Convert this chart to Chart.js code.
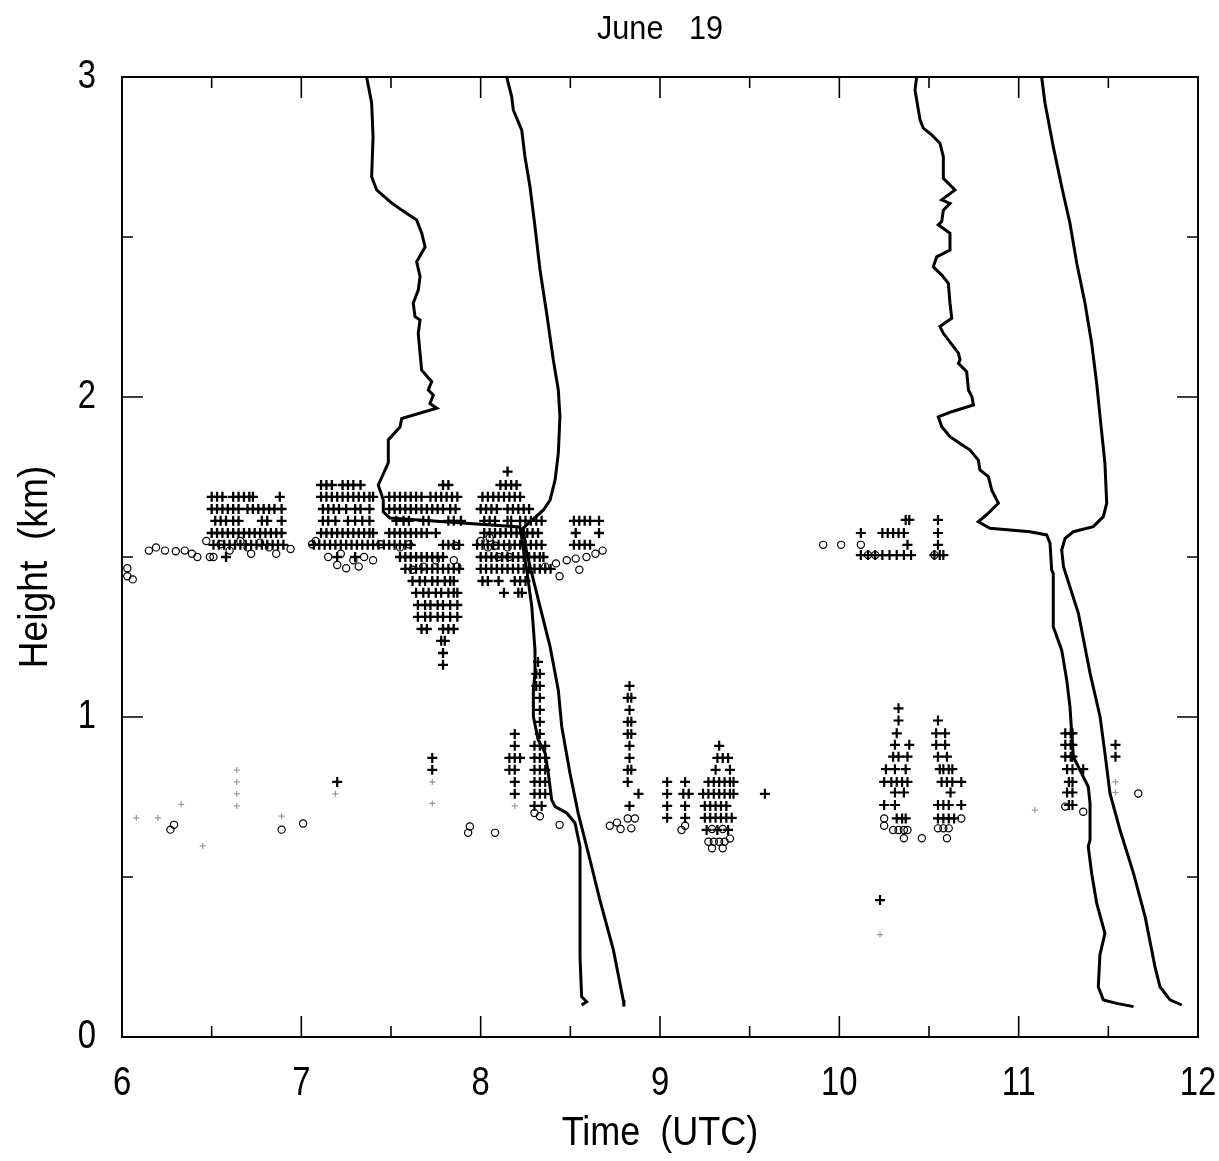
<!DOCTYPE html>
<html>
<head>
<meta charset="utf-8">
<script src="https://cdn.jsdelivr.net/npm/chart.js@4.4.1/dist/chart.umd.min.js"></script>
<style>
  html, body { margin: 0; padding: 0; background: #fff; }
</style>
</head>
<body>
<canvas id="profileChart" width="1219" height="1161"></canvas>
<script>
// June 19 - trajectories and echo heights
var FONT = "'Liberation Sans', Arial, sans-serif";

var chartTitle = 'June   19';
var xTitle = 'Time  (UTC)';
var yTitle = 'Height  (km)';
var xMajorTicks = [6, 7, 8, 9, 10, 11, 12];
var xMinorTicks = [6.5, 7.5, 8.5, 9.5, 10.5, 11.5];
var yMajorTicks = [0, 1, 2, 3];
var yMinorTicks = [0.5, 1.5, 2.5];

// trajectory lines [time, height]
var lineA = [[7.364,3.0],[7.392,2.919],[7.400,2.813],[7.392,2.688],[7.420,2.647],[7.504,2.606],[7.560,2.584],
  [7.643,2.553],[7.671,2.513],[7.690,2.469],[7.643,2.423],[7.662,2.376],[7.652,2.334],[7.624,2.293],[7.634,2.251],
  [7.662,2.241],[7.652,2.199],[7.662,2.137],[7.671,2.084],[7.727,2.048],[7.708,2.022],[7.736,2.006],[7.717,1.980],
  [7.755,1.965],[7.560,1.933],[7.550,1.906],[7.485,1.866],[7.485,1.794],[7.429,1.725],[7.457,1.678],[7.457,1.641],
  [7.494,1.622],[8.219,1.594],[8.257,1.459],[8.285,1.345],[8.303,1.209],[8.303,1.138],[8.294,1.084],[8.294,1.001],
  [8.321,0.928],[8.359,0.888],[8.377,0.825],[8.396,0.741],[8.415,0.720],[8.480,0.700],[8.526,0.669],[8.554,0.595],
  [8.554,0.407],[8.554,0.251],[8.563,0.126],[8.591,0.110],[8.563,0.100]];
var lineB = [[8.145,3.0],[8.173,2.939],[8.182,2.897],[8.229,2.834],[8.247,2.751],[8.275,2.657],[8.303,2.532],
  [8.331,2.397],[8.368,2.262],[8.405,2.116],[8.433,2.022],[8.442,1.938],[8.433,1.824],[8.415,1.741],[8.387,1.678],
  [8.350,1.647],[8.237,1.590],[8.257,1.512],[8.331,1.345],[8.387,1.220],[8.433,1.084],[8.452,0.970],[8.498,0.824],
  [8.544,0.699],[8.610,0.553],[8.665,0.428],[8.740,0.272],[8.795,0.116],[8.799,0.095]];
var lineC = [[10.431,3.0],[10.422,2.959],[10.450,2.866],[10.468,2.840],[10.515,2.819],[10.561,2.793],[10.580,2.751],
  [10.580,2.683],[10.627,2.657],[10.645,2.647],[10.571,2.616],[10.617,2.605],[10.580,2.584],[10.571,2.548],[10.552,2.538],
  [10.617,2.512],[10.617,2.459],[10.543,2.438],[10.524,2.407],[10.571,2.381],[10.608,2.355],[10.617,2.293],[10.627,2.246],
  [10.561,2.220],[10.580,2.199],[10.664,2.137],[10.673,2.116],[10.664,2.105],[10.710,2.079],[10.720,2.022],[10.739,2.001],
  [10.748,1.975],[10.627,1.954],[10.552,1.938],[10.571,1.907],[10.617,1.876],[10.673,1.855],[10.729,1.834],[10.775,1.803],
  [10.784,1.772],[10.831,1.751],[10.850,1.709],[10.887,1.668],[10.831,1.637],[10.775,1.610],[10.840,1.590],[11.063,1.579],
  [11.156,1.569],[11.175,1.543],[11.184,1.459],[11.193,1.449],[11.193,1.282],[11.240,1.209],[11.268,1.116],[11.286,1.032],
  [11.296,0.949],[11.305,0.876],[11.351,0.824],[11.388,0.782],[11.398,0.730],[11.398,0.616],[11.388,0.595],[11.407,0.512],
  [11.435,0.418],[11.481,0.324],[11.453,0.256],[11.444,0.157],[11.472,0.116],[11.547,0.105],[11.640,0.095]];
var lineD = [[11.128,3.0],[11.147,2.918],[11.193,2.782],[11.240,2.657],[11.286,2.543],[11.324,2.418],[11.370,2.293],
  [11.407,2.168],[11.435,2.043],[11.454,1.938],[11.481,1.793],[11.491,1.668],[11.472,1.626],[11.416,1.595],[11.305,1.579],
  [11.259,1.558],[11.240,1.522],[11.250,1.470],[11.333,1.324],[11.398,1.137],[11.454,1.001],[11.481,0.887],[11.509,0.762],
  [11.565,0.647],[11.640,0.512],[11.705,0.376],[11.760,0.220],[11.788,0.157],[11.844,0.116],[11.909,0.100]];

// '+' echoes, rows of [height, [times]]
var plusEarly = [
  [1.767, [8.15]],
  [1.725, [7.11, 7.14, 7.17, 7.23, 7.26, 7.29, 7.33, 7.79, 7.82, 8.11, 8.14, 8.17, 8.20]],
  [1.688, [6.50, 6.53, 6.56, 6.62, 6.65, 6.68, 6.71, 6.73, 6.88, 7.11, 7.14, 7.17, 7.20, 7.23, 7.26, 7.29, 7.32, 7.35,
           7.38, 7.40, 7.49, 7.52, 7.55, 7.58, 7.61, 7.64, 7.67, 7.72, 7.75, 7.78, 7.81, 7.84, 7.87, 8.01, 8.04, 8.07,
           8.10, 8.13, 8.16, 8.19, 8.22]],
  [1.650, [6.50, 6.53, 6.56, 6.59, 6.62, 6.65, 6.70, 6.73, 6.76, 6.79, 6.82, 6.85, 6.89, 7.12, 7.15, 7.18, 7.21, 7.25,
           7.30, 7.33, 7.38, 7.49, 7.52, 7.55, 7.58, 7.61, 7.64, 7.67, 7.70, 7.73, 7.76, 7.79, 7.83, 7.86, 8.00, 8.03,
           8.06, 8.09, 8.15, 8.18, 8.21, 8.24, 8.27]],
  [1.613, [6.52, 6.55, 6.58, 6.62, 6.65, 6.78, 6.81, 6.89, 7.12, 7.15, 7.19, 7.26, 7.30, 7.34, 7.38, 7.53, 7.57, 7.60,
           7.68, 7.71, 7.82, 7.85, 7.89, 8.02, 8.05, 8.08, 8.15, 8.17, 8.22, 8.25, 8.28, 8.31, 8.34, 8.52, 8.55, 8.58,
           8.61, 8.66]],
  [1.575, [6.50, 6.53, 6.56, 6.59, 6.62, 6.65, 6.68, 6.71, 6.74, 6.77, 6.80, 6.83, 6.86, 6.89, 7.11, 7.14, 7.17, 7.20,
           7.23, 7.26, 7.29, 7.32, 7.35, 7.38, 7.40, 7.49, 7.52, 7.55, 7.58, 7.61, 7.64, 7.67, 7.70, 7.75, 8.02, 8.05,
           8.08, 8.11, 8.14, 8.17, 8.20, 8.23, 8.26, 8.29, 8.32, 8.53, 8.66]],
  [1.538, [6.51, 6.54, 6.57, 6.60, 6.63, 6.66, 6.69, 6.72, 6.75, 6.78, 6.81, 6.84, 6.87, 6.90, 7.07, 7.10, 7.13, 7.16,
           7.19, 7.22, 7.25, 7.28, 7.31, 7.34, 7.37, 7.40, 7.43, 7.46, 7.49, 7.52, 7.55, 7.58, 7.61, 7.79, 7.82, 7.85,
           7.88, 7.98, 8.01, 8.04, 8.07, 8.10, 8.13, 8.16, 8.19, 8.22, 8.25, 8.28, 8.31, 8.34, 8.52, 8.55, 8.58, 8.61]],
  [1.500, [6.58, 7.20, 7.30, 7.55, 7.58, 7.61, 7.64, 7.67, 7.70, 7.73, 7.76, 7.79, 8.00, 8.03, 8.06, 8.09, 8.12, 8.15,
           8.18, 8.21, 8.24, 8.27, 8.30, 8.33, 8.35]],
  [1.463, [7.58, 7.61, 7.64, 7.67, 7.70, 7.73, 7.76, 7.79, 7.82, 7.85, 7.88, 8.00, 8.03, 8.06, 8.09, 8.12, 8.15, 8.18,
           8.21, 8.24, 8.27, 8.30, 8.33, 8.36, 8.39]],
  [1.425, [7.62, 7.66, 7.69, 7.73, 7.76, 7.80, 7.83, 7.85, 8.01, 8.04, 8.10, 8.19, 8.22, 8.25]],
  [1.388, [7.64, 7.68, 7.71, 7.75, 7.78, 7.82, 7.85, 7.87, 8.13, 8.21, 8.23]],
  [1.350, [7.65, 7.69, 7.72, 7.76, 7.79, 7.83, 7.87]],
  [1.313, [7.65, 7.69, 7.72, 7.76, 7.79, 7.83, 7.87]],
  [1.275, [7.67, 7.70, 7.79, 7.82, 7.85]],
  [1.238, [7.78, 7.80]],
  [1.200, [7.79]],
  [1.163, [7.79]]
];

var plusMiddle = [
  [1.172, [8.32]],
  [1.135, [8.31, 8.33]],
  [1.097, [8.31, 8.33, 8.83]],
  [1.060, [8.33, 8.82, 8.84]],
  [1.022, [8.33, 8.83]],
  [0.985, [8.33, 8.82, 8.84]],
  [0.947, [8.19, 8.33, 8.82, 8.84]],
  [0.910, [8.19, 8.30, 8.33, 8.36, 8.83, 9.33]],
  [0.872, [7.73, 8.16, 8.19, 8.22, 8.30, 8.33, 8.36, 8.83, 9.32, 9.35, 9.38]],
  [0.835, [7.73, 8.16, 8.19, 8.30, 8.33, 8.36, 8.82, 8.84, 9.31, 9.39]],
  [0.797, [7.20, 8.19, 8.30, 8.33, 8.36, 8.82, 9.04, 9.14, 9.27, 9.30, 9.33, 9.36, 9.39, 9.41]],
  [0.760, [8.19, 8.30, 8.33, 8.36, 8.88, 9.04, 9.13, 9.16, 9.24, 9.27, 9.30, 9.33, 9.36, 9.39, 9.41, 9.585]],
  [0.722, [8.30, 8.34, 8.83, 9.04, 9.14, 9.25, 9.28, 9.31, 9.34, 9.37]],
  [0.685, [9.04, 9.14, 9.25, 9.28, 9.31, 9.34, 9.37, 9.40]],
  [0.647, [9.26, 9.32, 9.38]]
];

var plusLate = [
  [1.616, [10.37, 10.39, 10.55]],
  [1.575, [10.12, 10.24, 10.27, 10.30, 10.33, 10.36, 10.55]],
  [1.538, [10.38, 10.55]],
  [1.506, [10.12, 10.16, 10.20, 10.24, 10.28, 10.32, 10.36, 10.40, 10.53, 10.56, 10.58]],
  [1.027, [10.33]],
  [0.989, [10.33, 10.55]],
  [0.949, [10.32, 10.54, 10.59, 11.26, 11.29, 11.30]],
  [0.913, [10.31, 10.39, 10.54, 10.59, 11.26, 11.29, 11.30, 11.54]],
  [0.876, [10.30, 10.33, 10.38, 10.55, 10.60, 11.26, 11.29, 11.30, 11.54]],
  [0.837, [10.26, 10.31, 10.37, 10.56, 10.58, 10.61, 10.63, 11.27, 11.30, 11.36]],
  [0.797, [10.25, 10.29, 10.32, 10.35, 10.38, 10.57, 10.60, 10.63, 10.68, 11.28, 11.30]],
  [0.764, [10.31, 10.36, 10.62, 11.27, 11.30]],
  [0.725, [10.25, 10.31, 10.55, 10.58, 10.61, 10.68, 11.28, 11.30]],
  [0.683, [10.32, 10.35, 10.37, 10.55, 10.58, 10.61, 10.64]],
  [0.428, [10.227]]
];

// 'o' echoes [time, height]
var ringPoints = [
  [6.03,1.465],[6.03,1.44],[6.06,1.43],[6.15,1.52],[6.19,1.53],[6.24,1.52],[6.30,1.518],[6.35,1.52],[6.39,1.51],
  [6.42,1.50],[6.47,1.55],[6.49,1.50],[6.51,1.50],[6.55,1.54],[6.60,1.52],[6.66,1.55],[6.70,1.53],[6.72,1.51],
  [6.77,1.545],[6.82,1.53],[6.86,1.51],[6.94,1.525],[7.06,1.54],[7.08,1.55],[7.15,1.50],[7.22,1.51],[7.29,1.49],
  [7.35,1.50],[7.40,1.49],[7.44,1.54],[7.20,1.475],[7.25,1.465],[7.32,1.47],[7.55,1.53],[7.60,1.54],[7.75,1.49],
  [7.86,1.535],[7.85,1.49],[7.87,1.47],[7.68,1.47],[7.62,1.46],[8.00,1.55],[8.04,1.53],[8.08,1.535],[8.15,1.53],
  [8.10,1.50],[8.16,1.50],[8.05,1.56],[8.36,1.47],[8.42,1.48],[8.48,1.49],[8.53,1.495],[8.59,1.50],[8.64,1.51],
  [8.68,1.52],[8.44,1.44],[8.55,1.46],
  [6.29,0.663],[6.27,0.648],[6.89,0.648],[7.01,0.667],[7.94,0.658],[7.93,0.638],[8.08,0.638],[8.30,0.70],[8.33,0.69],
  [8.44,0.663],[8.72,0.66],[8.76,0.67],[8.78,0.65],[8.82,0.683],[8.86,0.683],[8.84,0.652],[9.12,0.647],[9.14,0.66],
  [9.27,0.61],[9.30,0.61],[9.33,0.61],[9.36,0.61],[9.39,0.62],[9.29,0.59],[9.35,0.59],[9.29,0.65],[9.35,0.65],
  [9.91,1.538],[10.01,1.538],[10.12,1.538],[10.16,1.506],[10.20,1.506],[10.53,1.506],
  [10.25,0.683],[10.25,0.66],[10.30,0.647],[10.33,0.647],[10.36,0.647],[10.38,0.647],[10.36,0.621],[10.46,0.621],
  [10.68,0.683],[10.55,0.652],[10.58,0.652],[10.61,0.652],[10.60,0.621],[11.26,0.720],[11.36,0.704],[11.667,0.761]
];

// faint marks [time, height]
var faintPoints = [
  [6.64,0.834],[6.64,0.797],[6.64,0.76],[6.64,0.722],[7.19,0.76],[7.73,0.797],[7.73,0.73],[6.08,0.685],[6.20,0.685],
  [6.33,0.727],[6.45,0.597],[6.89,0.69],[11.09,0.709],[11.54,0.797],[11.54,0.764],[10.227,0.32],[8.19,0.722]
];

function rowsToPoints(rows) {
  var pts = [];
  rows.forEach(function (row) {
    row[1].forEach(function (t) { pts.push({ x: t, y: row[0] }); });
  });
  return pts;
}
function pairsToPoints(pairs) {
  return pairs.map(function (p) { return { x: p[0], y: p[1] }; });
}

function lineSet(pairs) {
  return {
    data: pairsToPoints(pairs),
    showLine: true,
    borderColor: '#000',
    borderWidth: 3,
    pointRadius: 0,
    tension: 0,
    fill: false
  };
}
function plusSet(points, color, r, w) {
  return {
    data: points,
    pointStyle: 'cross',
    pointRadius: r,
    borderColor: color,
    borderWidth: w
  };
}

// narrow, tall lettering like the plotter font
function narrowText(c, text, x, y, size, sx, align) {
  c.save();
  c.translate(x, y);
  c.scale(sx, 1);
  c.font = size + 'px ' + FONT;
  c.textAlign = align;
  c.textBaseline = 'middle';
  c.fillText(text, 0, 0);
  c.restore();
}

var frameTicks = {
  id: 'frameTicks',
  afterDraw: function (chart) {
    var c = chart.ctx, a = chart.chartArea, xs = chart.scales.x, ys = chart.scales.y;
    c.save();
    c.strokeStyle = '#000';
    c.lineWidth = 2;
    c.strokeRect(a.left, a.top, a.right - a.left, a.bottom - a.top);
    c.lineWidth = 1.6;
    c.beginPath();
    function xTick(v, len) {
      var px = xs.getPixelForValue(v);
      c.moveTo(px, a.bottom); c.lineTo(px, a.bottom - len);
      c.moveTo(px, a.top); c.lineTo(px, a.top + len);
    }
    function yTick(v, len) {
      var py = ys.getPixelForValue(v);
      c.moveTo(a.left, py); c.lineTo(a.left + len, py);
      c.moveTo(a.right, py); c.lineTo(a.right - len, py);
    }
    xMajorTicks.forEach(function (v) { xTick(v, 21); });
    xMinorTicks.forEach(function (v) { xTick(v, 11); });
    yMajorTicks.forEach(function (v) { yTick(v, 21); });
    yMinorTicks.forEach(function (v) { yTick(v, 11); });
    c.stroke();

    c.fillStyle = '#000';
    xMajorTicks.forEach(function (v) {
      narrowText(c, String(v), xs.getPixelForValue(v), 1084, 41, 0.8, 'center');
    });
    yMajorTicks.forEach(function (v) {
      narrowText(c, String(v), 96, ys.getPixelForValue(v), 41, 0.8, 'right');
    });

    // titles
    narrowText(c, chartTitle, (a.left + a.right) / 2, 30, 34, 0.9, 'center');
    narrowText(c, xTitle, (a.left + a.right) / 2, 1134, 40, 0.9, 'center');
    c.translate(36, 567);
    c.rotate(-Math.PI / 2);
    narrowText(c, yTitle, 0, 0, 40, 0.93, 'center');
    c.restore();
  }
};

var ctx = document.getElementById('profileChart').getContext('2d');
var chart = new Chart(ctx, {
  type: 'scatter',
  data: {
    datasets: [
      lineSet(lineA),
      lineSet(lineB),
      lineSet(lineC),
      lineSet(lineD),
      plusSet(rowsToPoints(plusEarly), '#000', 5, 2.3),
      plusSet(rowsToPoints(plusMiddle), '#000', 5, 2.2),
      plusSet(rowsToPoints(plusLate), '#000', 5, 2.2),
      {
        data: pairsToPoints(ringPoints),
        pointStyle: 'circle',
        pointRadius: 3.6,
        borderColor: '#000',
        backgroundColor: 'rgba(0,0,0,0)',
        borderWidth: 1.2
      },
      plusSet(pairsToPoints(faintPoints), '#999', 3, 1.2)
    ]
  },
  options: {
    responsive: false,
    animation: false,
    layout: { padding: { top: 77, right: 21, left: 0, bottom: 0 } },
    plugins: {
      legend: { display: false },
      tooltip: { enabled: false }
    },
    scales: {
      x: {
        type: 'linear',
        min: 6,
        max: 12,
        grid: { display: false, drawTicks: false },
        border: { display: false },
        ticks: { display: false, stepSize: 1 },
        afterFit: function (scale) {
          scale.height = 124;
          scale.paddingLeft = 0;
          scale.paddingRight = 0;
        }
      },
      y: {
        type: 'linear',
        min: 0,
        max: 3,
        grid: { display: false, drawTicks: false },
        border: { display: false },
        ticks: { display: false, stepSize: 1 },
        afterFit: function (scale) {
          scale.width = 122;
          scale.paddingTop = 0;
          scale.paddingBottom = 0;
        }
      }
    }
  },
  plugins: [frameTicks]
});
</script>
</body>
</html>
